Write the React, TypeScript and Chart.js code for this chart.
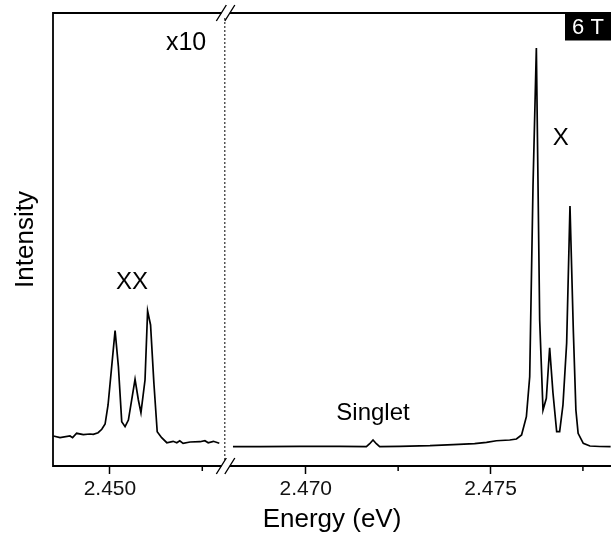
import React, { useEffect, useRef } from 'react';
import { Chart, registerables } from 'chart.js';

Chart.register(...registerables);

// ---- Data (real photon energies in eV, intensities in arbitrary units) ----
// Left panel (biexciton region), shown magnified x10
const xxEnergy = [
  2.44847, 2.44865, 2.44892, 2.44899, 2.44910, 2.44928, 2.44946, 2.44955, 2.44968,
  2.44978, 2.44987, 2.44995, 2.45014, 2.45023, 2.45032, 2.45041, 2.45050, 2.45068,
  2.45077, 2.45084, 2.45095, 2.45102, 2.45110, 2.45119, 2.45128, 2.45140, 2.45154,
  2.45171, 2.45181, 2.45189, 2.45198, 2.45217, 2.45244, 2.45257, 2.45266, 2.45280,
  2.45296,
];
const xxIntensityX10 = [
  6.62, 6.25, 6.62, 6.25, 7.22, 6.91, 7.06, 7.0, 7.35,
  8.1, 9.27, 13.47, 29.87, 21.92, 9.78, 8.68, 10.15, 19.14,
  14.57, 11.77, 18.98, 34.22, 31.13, 18.32, 7.57, 6.25, 5.14,
  5.45, 5.14, 5.58, 5.01, 5.3, 5.36, 5.58, 5.14, 5.45,
  5.01,
];

// Right panel (exciton region)
const xEnergy = [
  2.46803, 2.46876, 2.46984, 2.47092, 2.47164, 2.47173, 2.47182, 2.47191, 2.47200,
  2.47254, 2.47336, 2.47399, 2.47457, 2.47489, 2.47516, 2.47552, 2.47570, 2.47584,
  2.47597, 2.47606, 2.47615, 2.47624, 2.47633, 2.47642, 2.47651, 2.47660, 2.47669,
  2.47679, 2.47687, 2.47696, 2.47706, 2.47715, 2.47724, 2.47731, 2.47737, 2.47751,
  2.47769, 2.47796, 2.47825,
];
const xIntensity = [
  4.26, 4.26, 4.35, 4.35, 4.26, 4.92, 5.74, 4.92, 4.26,
  4.35, 4.48, 4.7, 4.92, 5.23, 5.58, 5.74, 5.96, 6.84,
  10.88, 19.71, 62.03, 92.27, 32.23, 12.36, 14.94, 26.11, 16.11,
  7.57, 7.57, 13.47, 27.15, 57.4, 30.02, 12.36, 7.22, 5.01,
  4.42, 4.3, 4.26,
];

// Axis ranges of the two panels (real energies) and tick values
const leftRange = [2.44846, 2.45311];
const rightRange = [2.46781, 2.47826];
const majorTicks = [2.45, 2.47, 2.475];
const minorTicks = [2.4525, 2.4725, 2.4775];

const xAxisTitle = 'Energy (eV)';
const yAxisTitle = 'Intensity';
const fieldLabel = '6 T';

// Annotation labels anchored in data coordinates
const annotationText = ['x10', 'XX', 'Singlet', 'X'];
const annotationEnergy = [2.45206, 2.4506, 2.47182, 2.4769];
const annotationIntensity = [91.8, 39.1, 10.2, 70.9];
const annotationSize = [25, 24, 24, 24];

// ---- Broken-axis mapping ----
const GAP = rightRange[0] - leftRange[1];
const toV = (e: number) => (e > (leftRange[1] + rightRange[0]) / 2 ? e - GAP : e);
const fromV = (v: number) => (v > leftRange[1] ? v + GAP : v);
const BREAK_V = leftRange[1];

const FONT = "'Liberation Sans', Arial, Helvetica, sans-serif";

export default function App() {
  const ref = useRef<HTMLCanvasElement | null>(null);

  useEffect(() => {
    document.body.style.margin = '0';
    const canvas = ref.current;
    if (!canvas) return;

    const decor = {
      id: 'decor',
      afterDraw(chart: any) {
        const { ctx, chartArea } = chart;
        const { left, right, top, bottom } = chartArea;
        const xs = chart.scales.x;
        const ys = chart.scales.y;
        const bx = xs.getPixelForValue(BREAK_V);
        const s1 = bx - 3.5;
        const s2 = bx + 5;
        ctx.save();
        ctx.strokeStyle = '#000';
        ctx.lineCap = 'butt';
        // frame
        ctx.lineWidth = 1.8;
        ctx.beginPath();
        ctx.moveTo(left, top);
        ctx.lineTo(left, bottom);
        ctx.moveTo(left - 0.9, top);
        ctx.lineTo(s1, top);
        ctx.moveTo(s2, top);
        ctx.lineTo(right, top);
        ctx.moveTo(left - 0.9, bottom);
        ctx.lineTo(s1, bottom);
        ctx.moveTo(s2, bottom);
        ctx.lineTo(right, bottom);
        ctx.stroke();
        // break marks
        ctx.lineWidth = 1.4;
        ctx.beginPath();
        for (const s of [s1, s2]) {
          for (const y of [top, bottom]) {
            ctx.moveTo(s - 5, y + 8);
            ctx.lineTo(s + 5, y - 8);
          }
        }
        ctx.stroke();
        // minor ticks
        ctx.lineWidth = 1.5;
        ctx.beginPath();
        for (const m of minorTicks) {
          const px = xs.getPixelForValue(toV(m));
          ctx.moveTo(px, bottom);
          ctx.lineTo(px, bottom + 5);
        }
        ctx.stroke();
        // dotted break line
        ctx.lineWidth = 1;
        ctx.setLineDash([2, 2]);
        ctx.beginPath();
        ctx.moveTo(bx, top + 5);
        ctx.lineTo(bx, bottom - 4);
        ctx.stroke();
        ctx.setLineDash([]);
        // annotations
        ctx.fillStyle = '#000';
        ctx.textAlign = 'center';
        ctx.textBaseline = 'alphabetic';
        annotationText.forEach((t, i) => {
          ctx.font = `${annotationSize[i]}px ${FONT}`;
          ctx.fillText(
            t,
            xs.getPixelForValue(toV(annotationEnergy[i])),
            ys.getPixelForValue(annotationIntensity[i])
          );
        });
        // field label box
        ctx.fillStyle = '#000';
        ctx.fillRect(right - 46, top - 0.5, 46, 28);
        ctx.fillStyle = '#fff';
        ctx.font = `22px ${FONT}`;
        ctx.textBaseline = 'alphabetic';
        ctx.fillText(fieldLabel, right - 23, top + 21);
        ctx.restore();
      },
    };

    const chart = new Chart(canvas, {
      type: 'line',
      data: {
        datasets: [
          {
            data: xxEnergy.map((e, i) => ({ x: toV(e), y: xxIntensityX10[i] })),
            borderColor: '#000',
            borderWidth: 1.7,
            pointRadius: 0,
            tension: 0,
            fill: false,
          },
          {
            data: xEnergy.map((e, i) => ({ x: toV(e), y: xIntensity[i] })),
            borderColor: '#000',
            borderWidth: 1.7,
            pointRadius: 0,
            tension: 0,
            fill: false,
          },
        ],
      },
      options: {
        responsive: false,
        animation: false,
        devicePixelRatio: 1,
        layout: { padding: { top: 13, left: 0, right: 0, bottom: 0 } },
        plugins: {
          legend: { display: false },
          tooltip: { enabled: false },
          title: { display: false },
        },
        scales: {
          x: {
            type: 'linear',
            min: toV(leftRange[0]),
            max: toV(rightRange[1]),
            afterBuildTicks: (s: any) => {
              s.ticks = majorTicks.map((t) => ({ value: toV(t) }));
            },
            afterFit: (s: any) => {
              s.height = 74;
            },
            ticks: {
              autoSkip: false,
              maxRotation: 0,
              padding: 3,
              color: '#111',
              font: { size: 21, family: FONT },
              callback: (v: any) => fromV(Number(v)).toFixed(3),
            },
            grid: {
              drawOnChartArea: false,
              drawTicks: true,
              tickLength: 8,
              tickColor: '#000',
              tickWidth: 1.5,
            },
            border: { display: false },
            title: {
              display: true,
              text: xAxisTitle,
              color: '#000',
              font: { size: 26, family: FONT },
              padding: { top: 0, bottom: 5 },
            },
          },
          y: {
            type: 'linear',
            min: 0,
            max: 100,
            afterFit: (s: any) => {
              s.width = 53;
            },
            ticks: { display: false },
            grid: { display: false, drawTicks: false },
            border: { display: false },
            title: {
              display: true,
              text: yAxisTitle,
              color: '#000',
              font: { size: 26, family: FONT },
              padding: { top: 10, bottom: 0 },
            },
          },
        },
      },
      plugins: [decor],
    });

    return () => chart.destroy();
  }, []);

  return (
    <div style={{ width: 611, height: 540, overflow: 'hidden' }}>
      <canvas ref={ref} width={611} height={540} style={{ width: 611, height: 540, display: 'block' }} />
    </div>
  );
}
